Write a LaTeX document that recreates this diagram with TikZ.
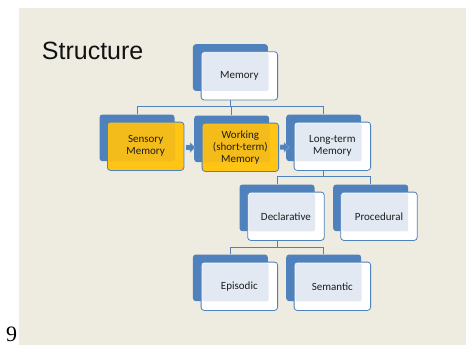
\documentclass[tikz,border=0pt]{standalone}
\usepackage{fontspec}
\usetikzlibrary{shapes.arrows}
\newfontfamily\boxfont{Carlito}
\newfontfamily\titlefont{Liberation Sans}
\newfontfamily\numfont{Liberation Serif}
\definecolor{slide}{HTML}{EEEBE0}
\definecolor{accent}{HTML}{4F81BD}
\definecolor{paleblue}{HTML}{E3E9F2}
\definecolor{gold}{HTML}{FFC414}
\definecolor{golddeep}{HTML}{F4BC1A}
\definecolor{ink}{HTML}{1E1E1E}
\tikzset{
  backbox/.style={anchor=north west, fill=accent, rounded corners=3pt,
    minimum width=75pt, minimum height=46.7pt, inner sep=0pt},
  frontbox/.style={anchor=north west, draw=accent, line width=0.8pt,
    rounded corners=3pt, minimum width=76.5pt, minimum height=48.3pt,
    inner sep=0pt, text=ink, font=\boxfont\fontsize{11}{12}\selectfont,
    align=center,
    fill=white,
    path picture={\fill[#1, rounded corners=2pt]
      ([shift={(1.2pt,-1.2pt)}]path picture bounding box.north west) rectangle
      ([shift={(-9pt,9pt)}]path picture bounding box.south east);}},
  frontbox/.default=paleblue,
  goldbox/.style={frontbox=golddeep, fill=gold},
  conn/.style={draw=accent, line width=0.9pt},
  flowarrow/.style={single arrow, fill=accent, draw=accent!60, line width=0.3pt,
    minimum height=9pt, minimum width=10pt, single arrow head extend=2.5pt,
    inner sep=2.2pt}
}
\begin{document}
\begin{tikzpicture}[x=1pt, y=-1pt]
  % page and slide area
  \useasboundingbox (0,0) rectangle (466,345);
  \fill[white] (0,0) rectangle (466,345);
  \fill[slide] (19,8) rectangle (466,345);

  \node[anchor=base west, inner sep=0pt, font=\titlefont\fontsize{25}{30}\selectfont, text=black!93]
    (title) at (41.7,59.3) {Structure};
  \node[anchor=base west, inner sep=0pt, font=\numfont\fontsize{22}{26}\selectfont]
    (pagenum) at (5.8,341) {9};

  % bus levels
  \coordinate (bus1) at (0,106.7);
  \coordinate (bus2) at (0,176.9);
  \coordinate (bus3) at (0,247);

  % back plates (positions only, used by the connectors)
  \node[backbox] (mem-b)  at (192.7,44)    {};
  \node[backbox] (sens-b) at (99.3,114.3)  {};
  \node[backbox] (work-b) at (194,115.3)   {};
  \node[backbox] (long-b) at (286,114.3)   {};
  \node[backbox] (decl-b) at (239.3,184.3) {};
  \node[backbox] (proc-b) at (333,184.3)   {};
  \node[backbox] (epi-b)  at (192.7,254.3) {};
  \node[backbox] (sem-b)  at (286,254.3)   {};

  % tree connectors
  \draw[conn] (mem-b.south) -- (mem-b.south |- bus1);
  \draw[conn] (sens-b.north) -- (sens-b.north |- bus1) -- (long-b.north |- bus1) -- (long-b.north);
  \draw[conn] (work-b.north |- bus1) -- (work-b.north);
  \draw[conn] (long-b.south) -- (long-b.south |- bus2);
  \draw[conn] (decl-b.north) -- (decl-b.north |- bus2) -- (proc-b.north |- bus2) -- (proc-b.north);
  \draw[conn] (decl-b.south) -- (decl-b.south |- bus3);
  \draw[conn] (epi-b.north) -- (epi-b.north |- bus3) -- (sem-b.north |- bus3) -- (sem-b.north);

  % front cards
  \node[frontbox] (mem)  at (200.7,51.3)  {Memory};
  \node[goldbox]  (sens) at (107,121.7)   {Sensory\\Memory};
  \node[goldbox]  (work) at (201.7,122.7) {Working\\(short-term)\\Memory};
  \node[frontbox] (long) at (293.7,121.7) {Long-term\\Memory};
  \node[frontbox] (decl) at (247.3,191.7) {Declarative};
  \node[frontbox] (proc) at (340.3,191.7) {Procedural};
  \node[frontbox] (epi)  at (200.7,261.7) {Episodic};
  \node[frontbox] (sem)  at (293.7,261.7) {Semantic};

  % flow arrows between the memory stages
  \node[flowarrow] (arrow1) at (189.3,147.5) {};
  \node[flowarrow] (arrow2) at (283.3,147.3) {};
\end{tikzpicture}
\end{document}
